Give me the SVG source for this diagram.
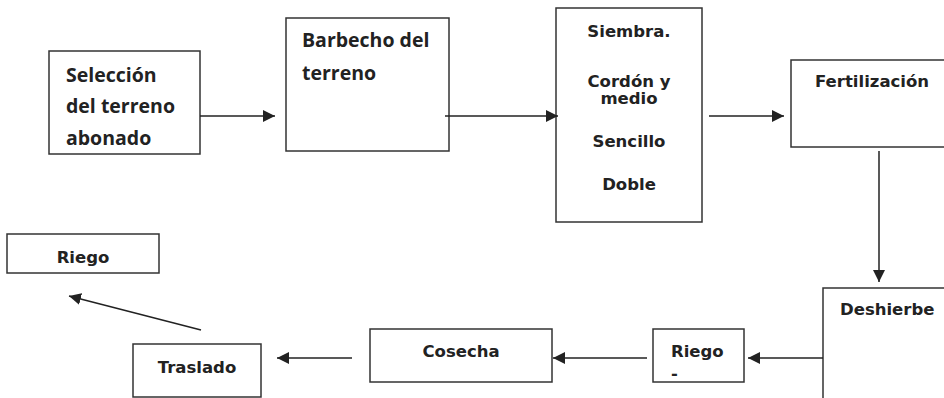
<svg xmlns="http://www.w3.org/2000/svg" width="944" height="398" viewBox="0 0 944 398">
<style>
.box{fill:#fff;stroke:#333;stroke-width:1.5}
.c{font-family:"Open Sans","Liberation Sans",sans-serif;font-weight:bold;font-size:19.5px;fill:#222}
.v{font-family:"DejaVu Sans","Liberation Sans",sans-serif;font-weight:bold;font-size:16.5px;fill:#222}
.m{text-anchor:middle}
.ln{stroke:#222;stroke-width:1.5;fill:none;marker-end:url(#ah)}
</style>
<defs>
<marker id="ah" viewBox="0 0 10 10" refX="10" refY="5" markerWidth="8" markerHeight="8" markerUnits="strokeWidth" orient="auto">
<path d="M0,0 L10,5 L0,10 z" fill="#222"/>
</marker>
</defs>
<rect width="944" height="398" fill="#fff"/>
<g id="n1"><rect class="box" x="49" y="51" width="151" height="103"/>
<text class="c" x="66" y="82">Selección</text>
<text class="c" x="66" y="113">del terreno</text>
<text class="c" x="66" y="145">abonado</text></g>
<g id="n2"><rect class="box" x="286" y="18" width="163" height="133"/>
<text class="c" x="302" y="47">Barbecho del</text>
<text class="c" x="302" y="80">terreno</text></g>
<g id="n3"><rect class="box" x="556" y="8" width="146" height="214"/>
<text class="v m" x="629" y="37">Siembra.</text>
<text class="v m" x="629" y="87">Cordón y</text>
<text class="v m" x="629" y="104">medio</text>
<text class="v m" x="629" y="147">Sencillo</text>
<text class="v m" x="629" y="190">Doble</text></g>
<g id="n4"><rect class="box" x="791" y="60" width="160" height="87"/>
<text class="v" x="815" y="87">Fertilización</text></g>
<g id="n5"><rect class="box" x="823" y="288" width="130" height="120"/>
<text class="v" x="840" y="315">Deshierbe</text></g>
<g id="n6"><rect class="box" x="653" y="329" width="91" height="53"/>
<text class="v" x="671" y="357">Riego</text>
<text class="v" x="671" y="379">-</text></g>
<g id="n7"><rect class="box" x="370" y="329" width="182" height="53"/>
<text class="v m" x="461" y="357">Cosecha</text></g>
<g id="n8"><rect class="box" x="133" y="344" width="128" height="53"/>
<text class="v m" x="197" y="373">Traslado</text></g>
<g id="n9"><rect class="box" x="7" y="234" width="152" height="39"/>
<text class="v m" x="83" y="263">Riego</text></g>
<g id="connectors">
<line class="ln" x1="200" y1="116" x2="275" y2="116"/>
<line class="ln" x1="445" y1="116" x2="558" y2="116"/>
<line class="ln" x1="709" y1="116" x2="784" y2="116"/>
<line class="ln" x1="879" y1="151" x2="879" y2="282"/>
<line class="ln" x1="823" y1="358" x2="748" y2="358"/>
<line class="ln" x1="647" y1="358" x2="553" y2="358"/>
<line class="ln" x1="352" y1="358" x2="277" y2="358"/>
<line class="ln" x1="201" y1="330" x2="69" y2="296"/>
</g>
</svg>
